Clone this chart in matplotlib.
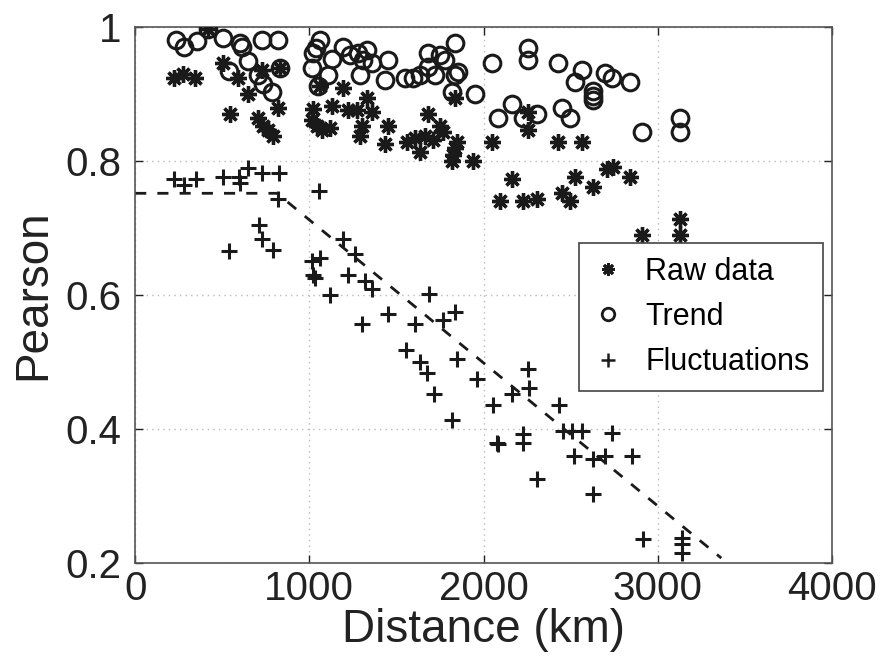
import matplotlib
matplotlib.use("Agg")
import matplotlib.pyplot as plt
from matplotlib.lines import Line2D

# ---- data ----
raw_x = [224, 276, 344, 419, 505, 591, 649, 729, 821, 832, 545, 706, 735, 763, 792,
         1062, 1194, 1332, 1022, 1131, 1223, 1274, 1360, 1016, 1045, 1073, 1119, 1303,
         1292, 1452, 1435, 1682, 1751, 1768, 1561, 1607, 1665, 1711, 1636, 1848, 1837,
         1826, 1820, 1940, 1837, 2049, 2256, 2256, 2428, 2566, 2164, 2095, 2227, 2307,
         2451, 2497, 2526, 2629, 2709, 2743, 2841, 2910, 3128, 3128]
raw_y = [0.925, 0.930, 0.925, 0.998, 0.946, 0.925, 0.901, 0.936, 0.880, 0.939, 0.870,
         0.864, 0.853, 0.846, 0.838, 0.913, 0.910, 0.895, 0.878, 0.883, 0.876, 0.876,
         0.873, 0.861, 0.853, 0.846, 0.849, 0.853, 0.838, 0.853, 0.826, 0.871, 0.853,
         0.843, 0.828, 0.835, 0.838, 0.831, 0.813, 0.828, 0.819, 0.809, 0.801, 0.801,
         0.894, 0.828, 0.873, 0.846, 0.828, 0.828, 0.774, 0.741, 0.741, 0.744, 0.752,
         0.740, 0.776, 0.761, 0.789, 0.791, 0.776, 0.689, 0.714, 0.689]

trend_x = [235, 281, 356, 419, 505, 603, 614, 729, 821, 649, 540, 706, 735, 786, 832,
           1062, 1022, 1039, 1131, 1016, 1108, 1050, 1194, 1234, 1280, 1332, 1309, 1360,
           1292, 1452, 1435, 1550, 1596, 1636, 1682, 1682, 1722, 1751, 1779, 1837, 1854,
           1837, 1820, 1952, 2049, 2256, 2256, 2428, 2566, 2526, 2698, 2738, 2841, 2629,
           2629, 2629, 2164, 2084, 2227, 2307, 2451, 2497, 2910, 3128, 3128]
trend_y = [0.981, 0.970, 0.979, 0.998, 0.984, 0.976, 0.970, 0.981, 0.981, 0.949, 0.934,
           0.928, 0.916, 0.903, 0.939, 0.981, 0.961, 0.969, 0.953, 0.939, 0.928, 0.913,
           0.970, 0.958, 0.961, 0.966, 0.951, 0.946, 0.928, 0.951, 0.921, 0.925, 0.925,
           0.928, 0.940, 0.961, 0.928, 0.958, 0.951, 0.976, 0.933, 0.928, 0.903, 0.901,
           0.946, 0.969, 0.951, 0.946, 0.936, 0.918, 0.931, 0.925, 0.918, 0.905, 0.898,
           0.891, 0.885, 0.865, 0.865, 0.870, 0.880, 0.865, 0.844, 0.864, 0.843]

fluct_x = [225, 282, 350, 505, 597, 603, 649, 729, 827, 821, 1056, 712, 729, 792, 540,
           1016, 1062, 1022, 1033, 1119, 1194, 1263, 1223, 1320, 1360, 1303, 1452, 1607,
           1688, 1768, 1837, 1556, 1636, 1676, 1848, 1963, 1716, 1820, 2055, 2078, 2256,
           2262, 2164, 2434, 2457, 2508, 2566, 2738, 2227, 2227, 2084, 2520, 2629, 2698,
           2853, 2307, 2629, 2916, 3140, 3140, 3140]
fluct_y = [0.773, 0.765, 0.774, 0.776, 0.776, 0.767, 0.790, 0.782, 0.782, 0.743, 0.756,
           0.705, 0.683, 0.668, 0.666, 0.651, 0.656, 0.630, 0.626, 0.600, 0.683, 0.662,
           0.630, 0.621, 0.609, 0.557, 0.572, 0.557, 0.602, 0.562, 0.575, 0.518, 0.500,
           0.484, 0.505, 0.475, 0.452, 0.413, 0.436, 0.379, 0.490, 0.461, 0.452, 0.435,
           0.397, 0.397, 0.397, 0.394, 0.393, 0.379, 0.378, 0.360, 0.355, 0.360, 0.360,
           0.325, 0.303, 0.236, 0.237, 0.228, 0.215]

fit_x = [0, 814, 3364]
fit_y = [0.752, 0.752, 0.207]

x_ticks = [0, 1000, 2000, 3000, 4000]
y_ticks = [0.2, 0.4, 0.6, 0.8, 1.0]
y_tick_labels = ["0.2", "0.4", "0.6", "0.8", "1"]

plt.rcParams['font.family'] = ['Liberation Sans', 'DejaVu Sans']

fig = plt.figure(figsize=(8.89, 6.66), dpi=100)
ax = fig.add_axes([0.152, 0.155, 0.784, 0.804])

asterisk = (8, 2, 0)
ax.plot(raw_x, raw_y, linestyle='none', marker=asterisk, markersize=12,
        markeredgewidth=2.4, color='#1a1a1a', label='Raw data', zorder=3)
ax.plot(trend_x, trend_y, linestyle='none', marker='o', markersize=12,
        markerfacecolor='none', markeredgewidth=2.2, markeredgecolor='#1a1a1a',
        label='Trend', zorder=3)
ax.plot(fluct_x, fluct_y, linestyle='none', marker='+', markersize=12,
        markeredgewidth=2.2, color='#1a1a1a', label='Fluctuations', zorder=3)
ax.plot(fit_x, fit_y, linestyle=(0, (4, 4)), linewidth=2.0, color='#1a1a1a', zorder=2)

ax.set_xlim(0, 4000)
ax.set_ylim(0.2, 1.0)
ax.set_xticks(x_ticks)
ax.set_yticks(y_ticks)
ax.set_yticklabels(y_tick_labels)
ax.tick_params(direction='in', length=6, width=1, labelsize=29, top=True, right=True,
               colors='#222222')
ax.tick_params(axis='x', pad=5)
ax.tick_params(axis='y', pad=10)
ax.grid(True, linestyle=(0, (1, 3)), color='#bbbbbb', linewidth=1)
ax.set_axisbelow(True)
for s in ax.spines.values():
    s.set_color('#555555')
    s.set_linewidth(1.2)

ax.set_xlabel('Distance (km)', fontsize=33, color='#222222', labelpad=0)
ax.set_ylabel('Pearson', fontsize=33, color='#222222', labelpad=7)

handles = [
    Line2D([], [], linestyle='none', marker=asterisk, markersize=9, markeredgewidth=2,
           color='#1a1a1a'),
    Line2D([], [], linestyle='none', marker='o', markersize=9, markerfacecolor='none',
           markeredgewidth=2, markeredgecolor='#1a1a1a'),
    Line2D([], [], linestyle='none', marker='+', markersize=10, markeredgewidth=1.8,
           color='#1a1a1a'),
]
leg = ax.legend(handles, ['Raw data', 'Trend', 'Fluctuations'], loc='upper right',
                bbox_to_anchor=(0.987, 0.597), fontsize=22, frameon=True, fancybox=False,
                edgecolor='#444444', framealpha=1, borderpad=0.45, labelspacing=0.5,
                handlelength=1.0, handletextpad=0.7, borderaxespad=0)
leg.get_frame().set_linewidth(1.2)

fig.savefig('out.png', dpi=100)
